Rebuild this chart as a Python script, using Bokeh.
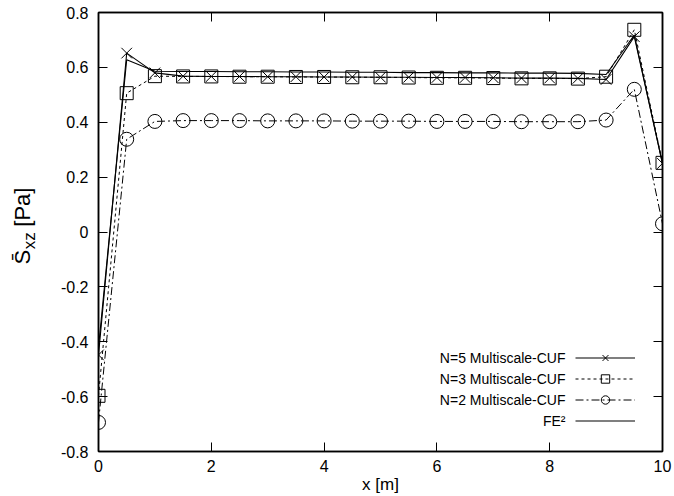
import math
from bokeh.plotting import figure
from bokeh.layouts import row
from bokeh.models import FixedTicker, LinearAxis, Legend, LegendItem, Label
from bokeh.embed import file_html
from bokeh.resources import INLINE

# ---------------- data ----------------
x_m = [0, 0.5, 1, 1.5, 2, 2.5, 3, 3.5, 4, 4.5, 5, 5.5, 6, 6.5, 7, 7.5, 8, 8.5, 9, 9.5, 10]
n5 = [-0.448, 0.652, 0.580, 0.568, 0.567, 0.567, 0.566, 0.566, 0.565, 0.565, 0.564,
      0.564, 0.563, 0.563, 0.562, 0.561, 0.561, 0.560, 0.556, 0.712, 0.250]
n3 = [-0.597, 0.506, 0.568, 0.567, 0.567, 0.566, 0.566, 0.565, 0.565, 0.564, 0.564,
      0.563, 0.562, 0.562, 0.561, 0.560, 0.560, 0.559, 0.566, 0.737, 0.252]
n2 = [-0.694, 0.338, 0.403, 0.406, 0.406, 0.406, 0.405, 0.405, 0.405, 0.404, 0.404,
      0.404, 0.403, 0.403, 0.403, 0.402, 0.402, 0.402, 0.408, 0.520, 0.030]
fe2 = [-0.420, 0.628, 0.586, 0.585, 0.585, 0.584, 0.584, 0.583, 0.583, 0.582, 0.582,
       0.581, 0.581, 0.580, 0.580, 0.579, 0.579, 0.578, 0.574, 0.718, 0.248]
series_names = ["N=5 Multiscale-CUF", "N=3 Multiscale-CUF", "N=2 Multiscale-CUF", "FE\u00b2"]
x_ticks = [0, 2, 4, 6, 8, 10]
x_tick_labels = ["0", "2", "4", "6", "8", "10"]
y_ticks = [-0.8, -0.6, -0.4, -0.2, 0, 0.2, 0.4, 0.6, 0.8]
y_tick_labels = ["-0.8", "-0.6", "-0.4", "-0.2", "0", "0.2", "0.4", "0.6", "0.8"]
x_label = "x [m]"
y_label_parts = ["S\u0304", "xz", "[Pa]"]

FONT = "Liberation Sans"
TICK_FS = 16
LEG_FS = 14
LAB_FS = 17
YLAB_FS = 22

W, H = 674, 496
LABEL_W = 44
BORDER_L, BORDER_R, BORDER_T, BORDER_B = 98, 12, 12, 45

p = figure(width=W - LABEL_W, height=H, x_range=(0, 10), y_range=(-0.8, 0.8),
           output_backend="svg", toolbar_location=None,
           min_border_left=BORDER_L - LABEL_W, min_border_right=BORDER_R,
           min_border_top=BORDER_T, min_border_bottom=BORDER_B,
           x_axis_location=None, y_axis_location=None)
p.grid.visible = False
p.outline_line_color = "black"
p.outline_line_width = 1.5
p.background_fill_color = "white"
p.border_fill_color = "white"


def make_axis(ticks, labels, show):
    ax = LinearAxis(ticker=FixedTicker(ticks=ticks))
    ax.major_label_overrides = {t: (l if show else "") for t, l in zip(ticks, labels)}
    ax.major_tick_in = 9
    ax.major_tick_out = 0
    ax.minor_tick_in = 0
    ax.minor_tick_out = 0
    ax.major_tick_line_color = "black"
    ax.major_tick_line_width = 1
    ax.axis_line_color = "black"
    ax.axis_line_width = 1.5
    ax.major_label_text_font = FONT
    ax.major_label_text_font_size = f"{TICK_FS}px"
    ax.major_label_text_color = "black"
    ax.axis_label_text_font = FONT
    ax.axis_label_text_font_style = "normal"
    ax.axis_label_text_font_size = f"{LAB_FS}px"
    ax.axis_label_text_color = "black"
    return ax


xb = make_axis(x_ticks, x_tick_labels, True)
xb.major_label_standoff = 8
xb.axis_label = x_label
xb.axis_label_standoff = 0
p.add_layout(xb, "below")
yl = make_axis(y_ticks, y_tick_labels, True)
yl.major_label_standoff = 10
p.add_layout(yl, "left")
xt = make_axis(x_ticks, x_tick_labels, False)
xt.major_label_standoff = 0
p.add_layout(xt, "above")
yr = make_axis(y_ticks, y_tick_labels, False)
yr.major_label_standoff = 0
p.add_layout(yr, "right")

# ---------------- series ----------------
lw = 1.1
r_fe_l = p.line(x_m, fe2, line_color="black", line_width=lw)
r5_l = p.line(x_m, n5, line_color="black", line_width=lw)
r5_s = p.scatter(x_m, n5, marker="x", size=15, line_color="black", line_width=1.0)
r3_l = p.line(x_m, n3, line_color="black", line_width=1.0, line_dash="3 3")
r3_s = p.scatter(x_m, n3, marker="square", size=13, line_color="black", fill_color=None, line_width=1.0)
r2_l = p.line(x_m, n2, line_color="black", line_width=1.0, line_dash="8 3 2 3")
r2_s = p.scatter(x_m, n2, marker="circle", size=14, line_color="black", fill_color=None, line_width=1.0)

ROW_H = 21
LEG_BOTTOM = 20
legend = Legend(items=[
    LegendItem(label=" ", renderers=[r5_l, r5_s]),
    LegendItem(label=" ", renderers=[r3_l, r3_s]),
    LegendItem(label=" ", renderers=[r2_l, r2_s]),
    LegendItem(label=" ", renderers=[r_fe_l]),
], location=(477, LEG_BOTTOM), orientation="vertical")
legend.padding = 0
legend.margin = 0
legend.spacing = 0
legend.glyph_width = 60
legend.glyph_height = ROW_H
legend.label_height = ROW_H
legend.label_width = 0
legend.label_standoff = 0
legend.label_text_font_size = "10px"
legend.border_line_color = None
legend.background_fill_alpha = 0
p.add_layout(legend)

# legend texts, right aligned left of the samples (gnuplot style)
for i, name in enumerate(series_names):
    p.add_layout(Label(x=467, y=LEG_BOTTOM + ROW_H * (3.5 - i), x_units="screen", y_units="screen", text=name,
                       text_align="right", text_baseline="middle", text_font=FONT,
                       text_font_size=f"{LEG_FS}px", text_color="black"))

# ---------------- rotated y label in a narrow side figure ----------------
lf = figure(width=LABEL_W, height=H, x_range=(0, 1), y_range=(0, 1),
            output_backend="svg", toolbar_location=None, min_border=0,
            x_axis_location=None, y_axis_location=None)
lf.grid.visible = False
lf.outline_line_color = None
lf.background_fill_color = "white"
lf.border_fill_color = "white"

f = YLAB_FS
sub_fs = round(f * 0.78)
w_main = 0.667 * f
w_sub = 1.0 * sub_fs
w_space = 0.278 * f
frame_bottom_canvas = H - BORDER_B   # side figure frame is aligned with the main frame
bottom_canvas_y = 264
y0 = frame_bottom_canvas - bottom_canvas_y
xc = 22
lf.add_layout(Label(x=xc, y=y0, x_units="screen", y_units="screen", text=y_label_parts[0],
                    angle=math.pi / 2, text_align="left", text_baseline="middle",
                    text_font=FONT, text_font_size=f"{f}px", text_color="black"))
lf.add_layout(Label(x=xc + 0.3 * f, y=y0 + w_main + 0.5, x_units="screen", y_units="screen", text=y_label_parts[1],
                    angle=math.pi / 2, text_align="left", text_baseline="middle",
                    text_font=FONT, text_font_size=f"{sub_fs}px", text_color="black"))
lf.add_layout(Label(x=xc, y=y0 + w_main + w_sub + w_space, x_units="screen", y_units="screen", text=y_label_parts[2],
                    angle=math.pi / 2, text_align="left", text_baseline="middle",
                    text_font=FONT, text_font_size=f"{f}px", text_color="black"))

layout = row(lf, p)
open("out.html", "w").write(file_html(layout, INLINE))
